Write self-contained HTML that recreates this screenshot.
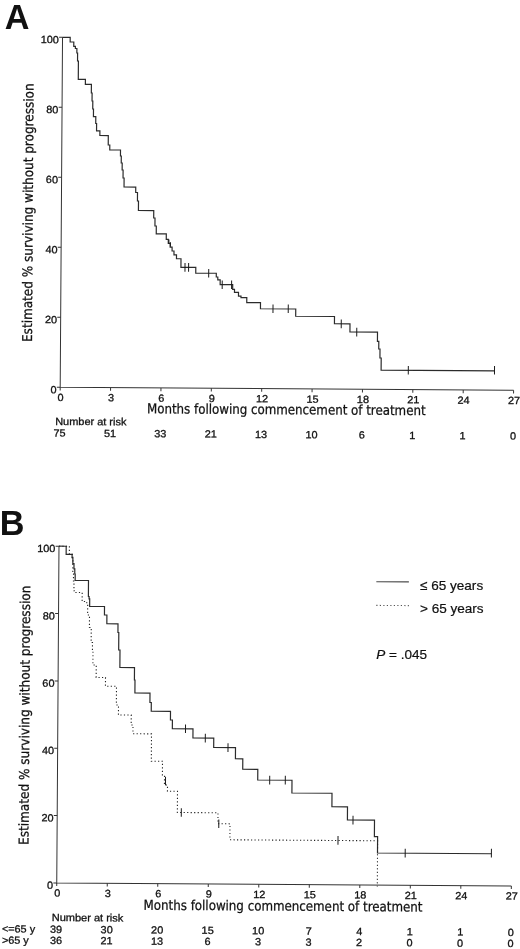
<!DOCTYPE html>
<html lang="en"><head><meta charset="utf-8"><title>Figure</title>
<style>
html,body{margin:0;padding:0;background:#fff}
svg{display:block;filter:grayscale(1)}
.ax{fill:none;stroke:#333;stroke-width:1}
.cv{fill:none;stroke:#2b2b2b;stroke-width:1.2;stroke-linejoin:miter}
.dt{fill:none;stroke:#222;stroke-width:1.1;stroke-dasharray:1.2 2.3}
.tk{fill:none;stroke:#1a1a1a;stroke-width:1}
text{fill:#111}
</style></head><body>
<svg width="520" height="949" viewBox="0 0 520 949">
<rect width="520" height="949" fill="#fff"/>
<text x="4.8" y="28.5" style="font-family:'Liberation Sans',sans-serif;font-weight:bold;font-size:34.2px">A</text>
<g transform="rotate(0.38 60.2 387.3)">
<path class="ax" d="M60.2 37.3V387.3H513.6"/>
<path class="ax" d="M60.2 387.3h-3.4M60.2 317.3h-3.4M60.2 247.3h-3.4M60.2 177.3h-3.4M60.2 107.3h-3.4M60.2 37.3h-3.4M60.2 387.3v3.2M110.58 387.3v3.2M160.96 387.3v3.2M211.33 387.3v3.2M261.71 387.3v3.2M312.09 387.3v3.2M362.47 387.3v3.2M412.84 387.3v3.2M463.22 387.3v3.2M513.6 387.3v3.2"/>
<text transform="translate(56.6 393.2) scale(1.045 1)" text-anchor="end" style="font-family:'Liberation Sans',sans-serif;font-size:10.4px;stroke:#111;stroke-width:.3">0</text>
<text transform="translate(56.6 323.2) scale(1.045 1)" text-anchor="end" style="font-family:'Liberation Sans',sans-serif;font-size:10.4px;stroke:#111;stroke-width:.3">20</text>
<text transform="translate(56.6 253.2) scale(1.045 1)" text-anchor="end" style="font-family:'Liberation Sans',sans-serif;font-size:10.4px;stroke:#111;stroke-width:.3">40</text>
<text transform="translate(56.6 183.2) scale(1.045 1)" text-anchor="end" style="font-family:'Liberation Sans',sans-serif;font-size:10.4px;stroke:#111;stroke-width:.3">60</text>
<text transform="translate(56.6 113.2) scale(1.045 1)" text-anchor="end" style="font-family:'Liberation Sans',sans-serif;font-size:10.4px;stroke:#111;stroke-width:.3">80</text>
<text transform="translate(56.6 43.2) scale(1.045 1)" text-anchor="end" style="font-family:'Liberation Sans',sans-serif;font-size:10.4px;stroke:#111;stroke-width:.3">100</text>
<text transform="translate(60.7 401) scale(1.045 1)" text-anchor="middle" style="font-family:'Liberation Sans',sans-serif;font-size:10.4px;stroke:#111;stroke-width:.3">0</text>
<text transform="translate(111.08 401) scale(1.045 1)" text-anchor="middle" style="font-family:'Liberation Sans',sans-serif;font-size:10.4px;stroke:#111;stroke-width:.3">3</text>
<text transform="translate(161.46 401) scale(1.045 1)" text-anchor="middle" style="font-family:'Liberation Sans',sans-serif;font-size:10.4px;stroke:#111;stroke-width:.3">6</text>
<text transform="translate(211.83 401) scale(1.045 1)" text-anchor="middle" style="font-family:'Liberation Sans',sans-serif;font-size:10.4px;stroke:#111;stroke-width:.3">9</text>
<text transform="translate(262.21 401) scale(1.045 1)" text-anchor="middle" style="font-family:'Liberation Sans',sans-serif;font-size:10.4px;stroke:#111;stroke-width:.3">12</text>
<text transform="translate(312.59 401) scale(1.045 1)" text-anchor="middle" style="font-family:'Liberation Sans',sans-serif;font-size:10.4px;stroke:#111;stroke-width:.3">15</text>
<text transform="translate(362.97 401) scale(1.045 1)" text-anchor="middle" style="font-family:'Liberation Sans',sans-serif;font-size:10.4px;stroke:#111;stroke-width:.3">18</text>
<text transform="translate(413.34 401) scale(1.045 1)" text-anchor="middle" style="font-family:'Liberation Sans',sans-serif;font-size:10.4px;stroke:#111;stroke-width:.3">21</text>
<text transform="translate(463.72 401) scale(1.045 1)" text-anchor="middle" style="font-family:'Liberation Sans',sans-serif;font-size:10.4px;stroke:#111;stroke-width:.3">24</text>
<text transform="translate(514.1 401) scale(1.045 1)" text-anchor="middle" style="font-family:'Liberation Sans',sans-serif;font-size:10.4px;stroke:#111;stroke-width:.3">27</text>
<text transform="translate(31.6 342.19) rotate(-90)" textLength="258.6" lengthAdjust="spacingAndGlyphs" style="font-family:'DejaVu Sans Condensed','DejaVu Sans','Liberation Sans',sans-serif;font-size:13.6px;stroke:#111;stroke-width:.25">Estimated % surviving without progression</text>
<path class="cv" d="M60.18 37.39H67.88V41.94H71.51V46.22H73.14V48.41H74.65V52.9H75.38V60.89H76.24V79.19H83.36V84.24H89.39V92.8H90.15V100.79H90.9V108.79H91.65V116.49H94V123.27H94.85V130.56H98.2V135.24H106.63V144.69H108.19V149.58H118.92V155.61H119.76V162.6H120.71V169.59H121.66V177.59H122.71V186.58H134.42V192H136.21V200.49H137.26V209.98H152.58V217.38H153.88V225.37H155.23V233.27H165.28V238.7H167.32V242.59H169.24V246.37H171.17V250.26H173.09V254.05H175.62V257.93H180.14V266.5H195V272.2H215.54V275.97H217.07V278.76H219.48V283.54H232.02V288.26H233.85V291.15H237.87V295.02H240.39V296.4H246.2V301.36H259.93V307.42H295.22V314.69H334.02V321.93H349.57V330.08H377.13V339.3H378.49V346.89H379.74V355.88H381V367.97H494.38"/>
<path class="tk" d="M184.2 262.27v8.6M187.8 262.25v8.6M207.94 267.92v8.6M221.52 279.33v8.6M230.92 279.27v8.6M272.47 303.09v8.6M287.72 302.99v8.6M340.82 317.74v8.6M356.38 325.83v8.6M408.18 363.59v8.6M494.38 363.02v8.6"/>
<path class="tk" d="M167.93 238.88v4.4M169.45 241.47v4.4"/>
<text x="147.17" y="412.72" textLength="278.6" lengthAdjust="spacingAndGlyphs" style="font-family:'DejaVu Sans Condensed','DejaVu Sans','Liberation Sans',sans-serif;font-size:13.6px;stroke:#111;stroke-width:.25">Months following commencement of treatment</text>
<text x="55.45" y="424.93" textLength="71.2" lengthAdjust="spacingAndGlyphs" style="font-family:'Liberation Sans',sans-serif;font-size:10.4px;stroke:#111;stroke-width:.3">Number at risk</text>
<text transform="translate(59.9 436.6) scale(1.045 1)" text-anchor="middle" style="font-family:'Liberation Sans',sans-serif;font-size:10.4px;stroke:#111;stroke-width:.3">75</text>
<text transform="translate(110.28 436.6) scale(1.045 1)" text-anchor="middle" style="font-family:'Liberation Sans',sans-serif;font-size:10.4px;stroke:#111;stroke-width:.3">51</text>
<text transform="translate(160.66 436.6) scale(1.045 1)" text-anchor="middle" style="font-family:'Liberation Sans',sans-serif;font-size:10.4px;stroke:#111;stroke-width:.3">33</text>
<text transform="translate(211.03 436.6) scale(1.045 1)" text-anchor="middle" style="font-family:'Liberation Sans',sans-serif;font-size:10.4px;stroke:#111;stroke-width:.3">21</text>
<text transform="translate(261.41 436.6) scale(1.045 1)" text-anchor="middle" style="font-family:'Liberation Sans',sans-serif;font-size:10.4px;stroke:#111;stroke-width:.3">13</text>
<text transform="translate(311.79 436.6) scale(1.045 1)" text-anchor="middle" style="font-family:'Liberation Sans',sans-serif;font-size:10.4px;stroke:#111;stroke-width:.3">10</text>
<text transform="translate(362.17 436.6) scale(1.045 1)" text-anchor="middle" style="font-family:'Liberation Sans',sans-serif;font-size:10.4px;stroke:#111;stroke-width:.3">6</text>
<text transform="translate(412.54 436.6) scale(1.045 1)" text-anchor="middle" style="font-family:'Liberation Sans',sans-serif;font-size:10.4px;stroke:#111;stroke-width:.3">1</text>
<text transform="translate(462.92 436.6) scale(1.045 1)" text-anchor="middle" style="font-family:'Liberation Sans',sans-serif;font-size:10.4px;stroke:#111;stroke-width:.3">1</text>
<text transform="translate(513.3 436.6) scale(1.045 1)" text-anchor="middle" style="font-family:'Liberation Sans',sans-serif;font-size:10.4px;stroke:#111;stroke-width:.3">0</text>
</g>
<text x="-0.3" y="534.5" style="font-family:'Liberation Sans',sans-serif;font-weight:bold;font-size:34.2px">B</text>
<g transform="rotate(0.38 56.75 882.9)">
<path class="ax" d="M56.75 546.25V882.9H511.35"/>
<path class="ax" d="M56.75 882.9h-3.4M56.75 815.57h-3.4M56.75 748.24h-3.4M56.75 680.91h-3.4M56.75 613.58h-3.4M56.75 546.25h-3.4M56.75 882.9v3.2M107.26 882.9v3.2M157.77 882.9v3.2M208.28 882.9v3.2M258.79 882.9v3.2M309.31 882.9v3.2M359.82 882.9v3.2M410.33 882.9v3.2M460.84 882.9v3.2M511.35 882.9v3.2"/>
<text transform="translate(53.15 888.8) scale(1.045 1)" text-anchor="end" style="font-family:'Liberation Sans',sans-serif;font-size:10.4px;stroke:#111;stroke-width:.3">0</text>
<text transform="translate(53.15 821.47) scale(1.045 1)" text-anchor="end" style="font-family:'Liberation Sans',sans-serif;font-size:10.4px;stroke:#111;stroke-width:.3">20</text>
<text transform="translate(53.15 754.14) scale(1.045 1)" text-anchor="end" style="font-family:'Liberation Sans',sans-serif;font-size:10.4px;stroke:#111;stroke-width:.3">40</text>
<text transform="translate(53.15 686.81) scale(1.045 1)" text-anchor="end" style="font-family:'Liberation Sans',sans-serif;font-size:10.4px;stroke:#111;stroke-width:.3">60</text>
<text transform="translate(53.15 619.48) scale(1.045 1)" text-anchor="end" style="font-family:'Liberation Sans',sans-serif;font-size:10.4px;stroke:#111;stroke-width:.3">80</text>
<text transform="translate(53.15 552.15) scale(1.045 1)" text-anchor="end" style="font-family:'Liberation Sans',sans-serif;font-size:10.4px;stroke:#111;stroke-width:.3">100</text>
<text transform="translate(57.25 896.6) scale(1.045 1)" text-anchor="middle" style="font-family:'Liberation Sans',sans-serif;font-size:10.4px;stroke:#111;stroke-width:.3">0</text>
<text transform="translate(107.76 896.6) scale(1.045 1)" text-anchor="middle" style="font-family:'Liberation Sans',sans-serif;font-size:10.4px;stroke:#111;stroke-width:.3">3</text>
<text transform="translate(158.27 896.6) scale(1.045 1)" text-anchor="middle" style="font-family:'Liberation Sans',sans-serif;font-size:10.4px;stroke:#111;stroke-width:.3">6</text>
<text transform="translate(208.78 896.6) scale(1.045 1)" text-anchor="middle" style="font-family:'Liberation Sans',sans-serif;font-size:10.4px;stroke:#111;stroke-width:.3">9</text>
<text transform="translate(259.29 896.6) scale(1.045 1)" text-anchor="middle" style="font-family:'Liberation Sans',sans-serif;font-size:10.4px;stroke:#111;stroke-width:.3">12</text>
<text transform="translate(309.81 896.6) scale(1.045 1)" text-anchor="middle" style="font-family:'Liberation Sans',sans-serif;font-size:10.4px;stroke:#111;stroke-width:.3">15</text>
<text transform="translate(360.32 896.6) scale(1.045 1)" text-anchor="middle" style="font-family:'Liberation Sans',sans-serif;font-size:10.4px;stroke:#111;stroke-width:.3">18</text>
<text transform="translate(410.83 896.6) scale(1.045 1)" text-anchor="middle" style="font-family:'Liberation Sans',sans-serif;font-size:10.4px;stroke:#111;stroke-width:.3">21</text>
<text transform="translate(461.34 896.6) scale(1.045 1)" text-anchor="middle" style="font-family:'Liberation Sans',sans-serif;font-size:10.4px;stroke:#111;stroke-width:.3">24</text>
<text transform="translate(511.85 896.6) scale(1.045 1)" text-anchor="middle" style="font-family:'Liberation Sans',sans-serif;font-size:10.4px;stroke:#111;stroke-width:.3">27</text>
<text transform="translate(28.25 845.19) rotate(-90)" textLength="259.4" lengthAdjust="spacingAndGlyphs" style="font-family:'DejaVu Sans Condensed','DejaVu Sans','Liberation Sans',sans-serif;font-size:13.6px;stroke:#111;stroke-width:.25">Estimated % surviving without progression</text>
<path class="cv" d="M56.67 546.19H63.97V554.34H69.92V557.21H70.74V563.6H71.88V568.69H72.72V573.89H73.15V580.28H86.49V596.3H87.2V598.59H87.82V606.19H102.67V614.69H105.12V623.42H116.28V632.1H117.14V649.59H118.45V667.09H133.07V679.49H133.65V692.49H148.74V701.89H150.1V710.63H169.36V719.25H171.32V727.99H191.97V737.1H212.79V746.46H234.6V757.57H241.97V768.02H257.04V778.67H291.31V791.44H331.4V804.93H346.99V818.07H374.08V834.49H377.29V850.87H491.19"/>
<path class="tk" d="M184.48 723.65v8.6M204.34 732.82v8.6M227.1 742.17v8.6M269.01 774.39v8.6M284.61 774.29v8.6M352.58 813.84v8.6M404.99 846.49v8.6M491.19 845.92v8.6"/>
<path class="dt" d="M56.67 546.19H67.17V554.32H70.12V559.9H70.76V573.4H71.45V580.9H72V590.69H73.26V592.38H80.27V601.34H84.93V603.41H85.85V614.8H87.72V627.29H89.56V642.28H90.9V649.77H91.45V664.76H94.8V677.24H104.14V685.93H115.19V704.61H117.32V714.59H130.13V724.51H131.95V733.25H150.51V760.62H161.69V775.55H163.79V784.29H166.85V790.52H176.89V811.7H217.53V822.68H229.6V838.65H377.31V884.27"/>
<path class="tk" d="M164.82 775.98v8.6M180.83 807.38v8.6M218.4 818.43v8.6M337.71 834.24v8.6"/>
<text x="143.78" y="909.12" textLength="278.8" lengthAdjust="spacingAndGlyphs" style="font-family:'DejaVu Sans Condensed','DejaVu Sans','Liberation Sans',sans-serif;font-size:13.6px;stroke:#111;stroke-width:.25">Months following commencement of treatment</text>
<text x="51.95" y="921.03" textLength="71.6" lengthAdjust="spacingAndGlyphs" style="font-family:'Liberation Sans',sans-serif;font-size:10.4px;stroke:#111;stroke-width:.3">Number at risk</text>
<text transform="translate(2.23 932.66) scale(1.045 1)" text-anchor="start" style="font-family:'Liberation Sans',sans-serif;font-size:10.4px;stroke:#111;stroke-width:.3">&lt;=65 y</text>
<text transform="translate(2.3 944.06) scale(1.045 1)" text-anchor="start" style="font-family:'Liberation Sans',sans-serif;font-size:10.4px;stroke:#111;stroke-width:.3">&gt;65 y</text>
<text transform="translate(56.45 932.9) scale(1.045 1)" text-anchor="middle" style="font-family:'Liberation Sans',sans-serif;font-size:10.4px;stroke:#111;stroke-width:.3">39</text>
<text transform="translate(56.45 944) scale(1.045 1)" text-anchor="middle" style="font-family:'Liberation Sans',sans-serif;font-size:10.4px;stroke:#111;stroke-width:.3">36</text>
<text transform="translate(106.96 932.9) scale(1.045 1)" text-anchor="middle" style="font-family:'Liberation Sans',sans-serif;font-size:10.4px;stroke:#111;stroke-width:.3">30</text>
<text transform="translate(106.96 944) scale(1.045 1)" text-anchor="middle" style="font-family:'Liberation Sans',sans-serif;font-size:10.4px;stroke:#111;stroke-width:.3">21</text>
<text transform="translate(157.47 932.9) scale(1.045 1)" text-anchor="middle" style="font-family:'Liberation Sans',sans-serif;font-size:10.4px;stroke:#111;stroke-width:.3">20</text>
<text transform="translate(157.47 944) scale(1.045 1)" text-anchor="middle" style="font-family:'Liberation Sans',sans-serif;font-size:10.4px;stroke:#111;stroke-width:.3">13</text>
<text transform="translate(207.98 932.9) scale(1.045 1)" text-anchor="middle" style="font-family:'Liberation Sans',sans-serif;font-size:10.4px;stroke:#111;stroke-width:.3">15</text>
<text transform="translate(207.98 944) scale(1.045 1)" text-anchor="middle" style="font-family:'Liberation Sans',sans-serif;font-size:10.4px;stroke:#111;stroke-width:.3">6</text>
<text transform="translate(258.49 932.9) scale(1.045 1)" text-anchor="middle" style="font-family:'Liberation Sans',sans-serif;font-size:10.4px;stroke:#111;stroke-width:.3">10</text>
<text transform="translate(258.49 944) scale(1.045 1)" text-anchor="middle" style="font-family:'Liberation Sans',sans-serif;font-size:10.4px;stroke:#111;stroke-width:.3">3</text>
<text transform="translate(309.01 932.9) scale(1.045 1)" text-anchor="middle" style="font-family:'Liberation Sans',sans-serif;font-size:10.4px;stroke:#111;stroke-width:.3">7</text>
<text transform="translate(309.01 944) scale(1.045 1)" text-anchor="middle" style="font-family:'Liberation Sans',sans-serif;font-size:10.4px;stroke:#111;stroke-width:.3">3</text>
<text transform="translate(359.52 932.9) scale(1.045 1)" text-anchor="middle" style="font-family:'Liberation Sans',sans-serif;font-size:10.4px;stroke:#111;stroke-width:.3">4</text>
<text transform="translate(359.52 944) scale(1.045 1)" text-anchor="middle" style="font-family:'Liberation Sans',sans-serif;font-size:10.4px;stroke:#111;stroke-width:.3">2</text>
<text transform="translate(410.03 932.9) scale(1.045 1)" text-anchor="middle" style="font-family:'Liberation Sans',sans-serif;font-size:10.4px;stroke:#111;stroke-width:.3">1</text>
<text transform="translate(410.03 944) scale(1.045 1)" text-anchor="middle" style="font-family:'Liberation Sans',sans-serif;font-size:10.4px;stroke:#111;stroke-width:.3">0</text>
<text transform="translate(460.54 932.9) scale(1.045 1)" text-anchor="middle" style="font-family:'Liberation Sans',sans-serif;font-size:10.4px;stroke:#111;stroke-width:.3">1</text>
<text transform="translate(460.54 944) scale(1.045 1)" text-anchor="middle" style="font-family:'Liberation Sans',sans-serif;font-size:10.4px;stroke:#111;stroke-width:.3">0</text>
<text transform="translate(511.05 932.9) scale(1.045 1)" text-anchor="middle" style="font-family:'Liberation Sans',sans-serif;font-size:10.4px;stroke:#111;stroke-width:.3">0</text>
<text transform="translate(511.05 944) scale(1.045 1)" text-anchor="middle" style="font-family:'Liberation Sans',sans-serif;font-size:10.4px;stroke:#111;stroke-width:.3">0</text>
</g>
<path class="cv" style="stroke:#4a4a4a;stroke-width:1.1" d="M376.3 581.7L408.9 581.9"/>
<path class="dt" style="stroke:#555" d="M376.3 605.4L408.9 605.6"/>
<text x="420" y="589.5" style="font-family:'Liberation Sans',sans-serif;font-size:13.55px;stroke:#111;stroke-width:.2">≤ 65 years</text>
<text x="420" y="612.5" style="font-family:'Liberation Sans',sans-serif;font-size:13.55px;stroke:#111;stroke-width:.2">&gt; 65 years</text>
<text x="376.3" y="659.3" style="font-family:'Liberation Sans',sans-serif;font-size:13.55px;stroke:#111;stroke-width:.2"><tspan font-style="italic">P</tspan> = .045</text>
</svg>
</body></html>
